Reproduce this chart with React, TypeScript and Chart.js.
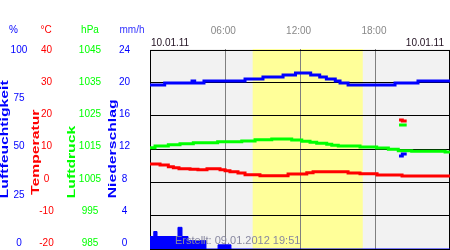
import React, { useEffect, useRef } from 'react';
import { Chart, registerables } from 'chart.js';

Chart.register(...registerables);

// ---- time axis ----
const END_HOUR = 23.9;
const SUNRISE = 8.18;
const SUNSET = 16.95;
const TIME_TICKS = [0, 6, 12, 18];
const TIME_LABELS = ['', '06:00', '12:00', '18:00'];
const DATE_LEFT = '10.01.11';
const DATE_RIGHT = '10.01.11';
const CREATED = 'Erstellt: 09.01.2012 19:51';

// ---- axis tick labels ----
const HUM_TICKS = [0, 25, 50, 75, 100];
const TEMP_TICKS = [-20, -10, 0, 10, 20, 30, 40];
const PRES_TICKS = [985, 995, 1005, 1015, 1025, 1035, 1045];
const RAIN_TICKS = [0, 4, 8, 12, 16, 20, 24];

// ---- series (hour of day -> value, step series) ----
const HUM_HOURS = [0, 1.17, 3.35, 3.56, 4.3, 7.57, 9.0, 10.6, 11.59, 12.8, 13.52, 14.05, 14.76, 15.14, 15.78, 19.52, 21.35, 23.9];
const HUM_VALUES = [82, 83, 84, 83, 84, 85, 86, 87, 88, 87, 86, 85, 84, 83, 82, 83, 84, 84];

const TEMP_HOURS = [0, 0.8, 1.46, 1.86, 2.31, 3.19, 3.82, 4.54, 5.58, 5.98, 6.37, 7.01, 7.57, 8.76, 11.0, 12.49, 12.99, 15.78, 16.73, 18.09, 20.08, 23.9];
const TEMP_VALUES = [5.5, 5.2, 4.7, 4.4, 4.1, 3.9, 3.8, 4.1, 3.8, 3.5, 3.2, 2.8, 2.3, 2.0, 2.5, 2.9, 3.2, 2.8, 2.6, 2.2, 1.9, 1.9];

const PRES_HOURS = [0, 0.4, 1.46, 2.39, 3.45, 5.39, 7.31, 8.37, 9.7, 11.29, 12.09, 12.75, 13.28, 14.08, 14.48, 15.0, 16.73, 18.06, 18.99, 19.78, 20.85, 23.51, 23.9];
const PRES_VALUES = [1015.4, 1015.9, 1016.3, 1016.6, 1016.9, 1017.2, 1017.4, 1017.8, 1018.0, 1017.7, 1017.3, 1017.0, 1016.7, 1016.4, 1016.1, 1015.9, 1015.6, 1015.3, 1014.9, 1014.5, 1014.3, 1014.1, 1014.1];

const RAIN_HOURS = [0, 0.3, 0.56, 2.23, 2.55, 3.03, 4.46, 5.42, 6.45, 23.9];
const RAIN_VALUES = [1.5, 2.1, 1.5, 2.6, 1.5, 1.0, 0, 0.5, 0, 0];

const STRAY_HOURS = [19.84, 20.1, 20.45];
const STRAY_TEMP = [18.7, 18.4, 18.4];
const STRAY_PRES = [1022.2, 1022.2, 1022.2];
const STRAY_HUM = [46.5, 47.5, 47.5];

// ---- styles ----
const BLUE = '#0000ff';
const RED = '#ff0000';
const GREEN = '#00ff00';
const FONT = "'Liberation Sans', Arial, Helvetica, sans-serif";

function pts(hours: number[], vals: number[]) {
  return hours.map((h, i) => ({ x: h, y: vals[i] }));
}

function fixedTicks(list: number[]) {
  return (scale: any) => {
    scale.ticks = list.map((v) => ({ value: v }));
  };
}

function labelAxis(ticks: number[], color: string, width: number, padding: number, weight: number, min: number, max: number) {
  return {
    type: 'linear',
    axis: 'y',
    position: 'left',
    weight,
    min,
    max,
    afterBuildTicks: fixedTicks(ticks),
    afterFit: (s: any) => {
      s.width = width;
      s.paddingTop = 0;
      s.paddingBottom = 0;
    },
    grid: { display: false, drawTicks: false },
    border: { display: false },
    ticks: {
      color,
      padding,
      crossAlign: 'center',
      autoSkip: false,
      font: { family: FONT, size: 10 },
      callback: (v: any) => String(v),
    },
  };
}

const decor = {
  id: 'decor',
  beforeDraw(chart: any) {
    const { ctx, chartArea: a, scales } = chart;
    const x = scales.x;
    ctx.save();
    ctx.fillStyle = '#f2f2f2';
    ctx.fillRect(a.left, a.top, a.right - a.left, a.bottom - a.top);
    const x1 = x.getPixelForValue(SUNRISE);
    const x2 = x.getPixelForValue(SUNSET);
    ctx.fillStyle = '#ffff99';
    ctx.fillRect(x1, a.top, x2 - x1, a.bottom - a.top);
    ctx.restore();
  },
  beforeDatasetsDraw(chart: any) {
    const { ctx, chartArea: a } = chart;
    ctx.save();
    ctx.strokeStyle = '#000';
    ctx.lineWidth = 1;
    ctx.strokeRect(a.left + 0.5, a.top + 1.5, a.right - a.left - 1, a.bottom - a.top - 1);
    ctx.restore();
  },
  afterDraw(chart: any) {
    const { ctx } = chart;
    ctx.save();
    ctx.textBaseline = 'middle';
    ctx.font = `10px ${FONT}`;
    ctx.textAlign = 'center';
    const headers: [string, number, string][] = [
      ['%', 13.5, BLUE],
      ['°C', 46, RED],
      ['hPa', 90, GREEN],
      ['mm/h', 132, '#3333ff'],
    ];
    headers.forEach(([t, x, c]) => {
      ctx.fillStyle = c;
      ctx.fillText(t, x, 30.5);
    });
    ctx.fillStyle = '#201020';
    ctx.textAlign = 'left';
    ctx.fillText(DATE_LEFT, 151, 43.5);
    ctx.textAlign = 'right';
    ctx.fillText(DATE_RIGHT, 444, 43.5);

    ctx.font = `11px ${FONT}`;
    ctx.textAlign = 'left';
    ctx.fillStyle = '#8888a0';
    ctx.fillText(CREATED, 175, 240.5);

    const titles: [string, number, number, string][] = [
      ['Luftfeuchtigkeit', 4.5, 198.3, BLUE],
      ['Temperatur', 35.5, 195, RED],
      ['Luftdruck', 72, 198.3, GREEN],
      ['Niederschlag', 113, 198.3, BLUE],
    ];
    ctx.font = `bold 11px ${FONT}`;
    titles.forEach(([t, x, y, c]) => {
      ctx.save();
      ctx.translate(x, y);
      ctx.rotate(-Math.PI / 2);
      ctx.scale(1.43, 1);
      ctx.fillStyle = c;
      ctx.textAlign = 'left';
      ctx.textBaseline = 'middle';
      ctx.fillText(t, 0, 0);
      ctx.restore();
    });
    ctx.restore();
  },
};

export default function App() {
  const ref = useRef<HTMLCanvasElement>(null);
  useEffect(() => {
    const stepLine = (data: any, axis: string, color: string) => ({
      type: 'line',
      data,
      yAxisID: axis,
      xAxisID: 'x',
      stepped: true,
      borderColor: color,
      borderWidth: 3,
      borderCapStyle: 'butt',
      pointRadius: 0,
      fill: false,
    });
    const chart = new Chart(ref.current as HTMLCanvasElement, {
      type: 'line',
      data: {
        datasets: [
          stepLine(pts(STRAY_HOURS, STRAY_TEMP), 'yT', RED),
          stepLine(pts(STRAY_HOURS, STRAY_PRES), 'yP', GREEN),
          stepLine(pts(STRAY_HOURS, STRAY_HUM), 'yH', BLUE),
          stepLine(pts(HUM_HOURS, HUM_VALUES), 'yH', BLUE),
          stepLine(pts(PRES_HOURS, PRES_VALUES), 'yP', GREEN),
          stepLine(pts(TEMP_HOURS, TEMP_VALUES), 'yT', RED),
          {
            type: 'line',
            data: pts(RAIN_HOURS, RAIN_VALUES),
            yAxisID: 'yR',
            xAxisID: 'x',
            stepped: true,
            borderColor: BLUE,
            borderWidth: 1,
            backgroundColor: BLUE,
            fill: 'origin',
            pointRadius: 0,
          },
        ] as any,
      },
      options: {
        responsive: false,
        animation: false,
        layout: { padding: { left: 0, right: 0, top: 0, bottom: 1 } },
        plugins: { legend: { display: false }, tooltip: { enabled: false } },
        scales: {
          x: {
            type: 'linear',
            position: 'top',
            min: 0,
            max: END_HOUR,
            afterBuildTicks: fixedTicks(TIME_TICKS),
            afterFit: (s: any) => {
              s.height = 49;
              s.paddingLeft = 0;
              s.paddingRight = 0;
            },
            grid: {
              color: (c: any) => (c.tick && c.tick.value === 0 ? 'rgba(0,0,0,0)' : '#808080'),
              drawTicks: false,
              lineWidth: 1,
            },
            border: { display: false },
            ticks: {
              color: '#888888',
              padding: 12,
              labelOffset: -2,
              maxRotation: 0,
              autoSkip: false,
              font: { family: FONT, size: 10 },
              callback: (v: any) => {
                const i = TIME_TICKS.indexOf(Number(v));
                return i >= 0 ? TIME_LABELS[i] : '';
              },
            },
          },
          aH: labelAxis(HUM_TICKS, BLUE, 30, 2.7, 5, -2.95, 100.52),
          aT: labelAxis(TEMP_TICKS, RED, 30, 6.3, 4, -21.77, 40.31),
          aP: labelAxis(PRES_TICKS, GREEN, 45, 3.9, 3, 983.23, 1045.31),
          aR: labelAxis(RAIN_TICKS, BLUE, 45, 19.9, 2, -0.708, 24.124),
          yT: {
            type: 'linear',
            position: 'left',
            weight: 1,
            min: -20,
            max: 40,
            afterBuildTicks: fixedTicks(TEMP_TICKS),
            afterFit: (s: any) => {
              s.width = 0;
              s.paddingTop = 0;
              s.paddingBottom = 0;
            },
            ticks: { display: false },
            grid: {
              color: (c: any) => (c.tick && c.tick.value === 40 ? 'rgba(0,0,0,0)' : '#000000'),
              drawTicks: false,
              lineWidth: 1,
            },
            border: { display: false },
          },
          yH: { type: 'linear', position: 'left', display: false, min: 0, max: 100 },
          yP: { type: 'linear', position: 'left', display: false, min: 985, max: 1045 },
          yR: { type: 'linear', position: 'left', display: false, min: 0, max: 24 },
        } as any,
      },
      plugins: [decor],
    } as any);
    return () => chart.destroy();
  }, []);
  return (
    <div style={{ position: 'absolute', left: 0, top: 0, width: 450, height: 250 }}>
      <canvas ref={ref} width={450} height={250} style={{ display: 'block', width: 450, height: 250 }} />
    </div>
  );
}
